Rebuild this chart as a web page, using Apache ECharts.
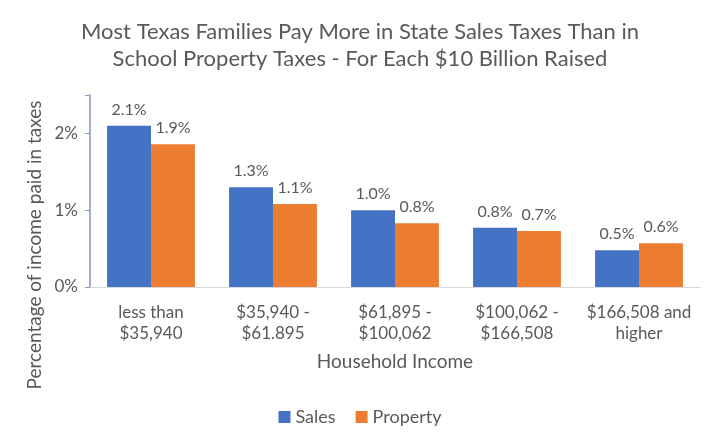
<!DOCTYPE html>
<html>
<head>
<meta charset="utf-8">
<script src="https://cdn.jsdelivr.net/npm/echarts@6/dist/echarts.min.js"></script>
<style>
  html, body { margin: 0; padding: 0; background: #fff; }
  #chart { width: 720px; height: 444px; }
</style>
</head>
<body>
<div id="chart"></div>
<script>
// 数据
var categories = ['less than\n$35,940', '$35,940 -\n$61.895', '$61,895 -\n$100,062', '$100,062 -\n$166,508', '$166,508 and\nhigher'];
var salesValues = [2.1, 1.3, 1.0, 0.77, 0.48];
var propertyValues = [1.86, 1.08, 0.83, 0.73, 0.57];
var yTicks = [0, 1, 2];

var FONT = 'Lato';
var GREY = '#595959';

var myChart = echarts.init(document.getElementById('chart'));

function pctLabel(p) {
  return p.value.toFixed(1) + '%';
}

var option = {
  backgroundColor: '#fff',
  textStyle: { fontFamily: FONT },
  title: {
    text: 'Most Texas Families Pay More in State Sales Taxes Than in\nSchool Property Taxes - For Each $10 Billion Raised',
    left: 'center',
    top: 13,
    textStyle: { fontFamily: FONT, fontSize: 22, fontWeight: 'normal', color: GREY, lineHeight: 27 }
  },
  legend: {
    bottom: 13,
    left: 'center',
    icon: 'rect',
    itemWidth: 12,
    itemHeight: 12,
    itemGap: 20,
    itemTextGap: 5,
    textStyle: { fontFamily: FONT, fontSize: 18, color: GREY },
    data: ['Sales', 'Property']
  },
  grid: { left: 90, right: 20, top: 95, bottom: 157 },
  xAxis: {
    type: 'category',
    data: categories,
    axisLine: { lineStyle: { color: '#d9d9d9', width: 1 } },
    axisTick: { show: false },
    axisLabel: { fontFamily: FONT, fontSize: 17, color: GREY, lineHeight: 21, margin: 15, interval: 0 },
    name: 'Household Income',
    nameLocation: 'middle',
    nameGap: 65,
    nameTextStyle: { fontFamily: FONT, fontSize: 19, color: GREY }
  },
  yAxis: {
    type: 'value',
    min: 0,
    max: 2.5,
    interval: 1,
    splitLine: { show: false },
    axisLine: { show: true, lineStyle: { color: '#8796c2', width: 1.5 } },
    axisTick: { show: true, length: 5, lineStyle: { color: '#8796c2' } },
    axisLabel: {
      fontFamily: FONT, fontSize: 17, color: GREY, margin: 12,
      formatter: function (v) { return yTicks.indexOf(v) >= 0 ? v + '%' : ''; }
    }
  },
  graphic: [{
    type: 'text',
    x: 35,
    y: 245,
    rotation: Math.PI / 2,
    style: {
      text: 'Percentage of income paid in taxes',
      fontFamily: FONT,
      fontSize: 19,
      fill: GREY,
      align: 'center',
      verticalAlign: 'middle'
    }
  }],
  series: [
    {
      name: 'Sales',
      type: 'bar',
      data: salesValues,
      barGap: '0%',
      barCategoryGap: '28%',
      itemStyle: { color: '#4472c4' },
      label: { show: true, position: 'top', distance: 8, fontFamily: FONT, fontSize: 16, color: GREY, formatter: pctLabel }
    },
    {
      name: 'Property',
      type: 'bar',
      data: propertyValues,
      itemStyle: { color: '#ed7d31' },
      label: { show: true, position: 'top', distance: 8, fontFamily: FONT, fontSize: 16, color: GREY, formatter: pctLabel }
    }
  ]
};

myChart.setOption(option);
</script>
</body>
</html>
